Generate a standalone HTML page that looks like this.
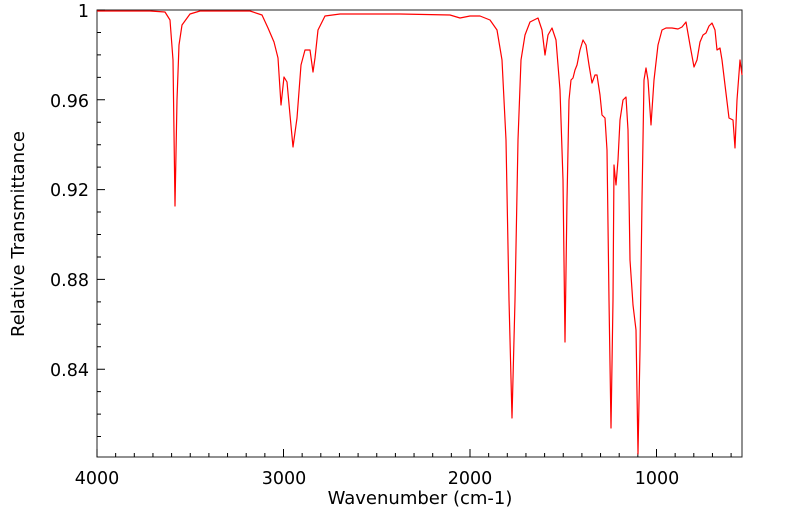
<!DOCTYPE html>
<html><head><meta charset="utf-8"><style>
html,body{margin:0;padding:0;background:#fff;}
svg{display:block;font-family:"DejaVu Sans","Liberation Sans",sans-serif;}
</style></head><body>
<svg width="799" height="516" viewBox="0 0 799 516" xmlns="http://www.w3.org/2000/svg">
<rect x="97" y="10" width="645" height="447" fill="none" stroke="#222" stroke-width="1"/>
<path stroke="#000" stroke-width="1" fill="none" d="
M97,457V449 M115.65,457V453 M134.3,457V453 M152.95,457V453 M171.6,457V453 M190.25,457V453 M208.9,457V453 M227.55,457V453 M246.2,457V453 M264.85,457V453 M283.5,457V449 M302.15,457V453 M320.8,457V453 M339.45,457V453 M358.1,457V453 M376.75,457V453 M395.4,457V453 M414.05,457V453 M432.7,457V453 M451.35,457V453 M470,457V449 M488.65,457V453 M507.3,457V453 M525.95,457V453 M544.6,457V453 M563.25,457V453 M581.9,457V453 M600.55,457V453 M619.2,457V453 M637.85,457V453 M656.5,457V449 M675.15,457V453 M693.8,457V453 M712.45,457V453 M731.1,457V453
M97,10H105 M97,32.45H101 M97,54.9H101 M97,77.35H101 M97,99.8H105 M97,122.25H101 M97,144.7H101 M97,167.15H101 M97,189.6H105 M97,212.05H101 M97,234.5H101 M97,256.95H101 M97,279.4H105 M97,301.85H101 M97,324.3H101 M97,346.75H101 M97,369.2H105 M97,391.65H101 M97,414.1H101 M97,436.55H101"/>
<polyline fill="none" stroke="#ff0000" stroke-width="1.2" stroke-linejoin="round" points="97,11 150,11 165,12 170,20 173,60 175,206 177,100 179,45 182,25 190,14 200,11 250,11 262,15 268,28 274,42 278,58 281,105 284,77 287,82 290,115 293,147 297,118 301,65 305,50 310,50 313,72 315,58 318,30 325,16 340,14 400,14 450,15 460,18 470,16 480,16 490,20 497,30 502,60 506,140 509,300 512,418 515,300 518,140 521,60 525,35 530,22 538,18 542,30 545,55 548,35 552,28 556,40 560,90 563,180 565,342 567,200 569,100 571,80 573,78 575,70 577,65 580,50 583,40 586,45 589,65 592,83 595,75 597,75 600,95 602,115 605,118 607,150 609,300 611,428 613,300 614,165 616,185 618,160 620,120 623,100 626,97 628,130 630,260 633,305 636,330 638,454 640,350 642,200 644,80 646,68 648,80 651,125 654,80 658,45 662,30 666,28 672,28 678,29 682,27 686,22 690,45 694,67 697,60 700,42 703,35 706,33 709,26 712,23 715,30 717,50 720,48 722,60 725,85 729,118 733,120 735,148 737,100 740,60 742,75"/>
<g font-size="17.5" fill="#000">
<text x="97" y="484" text-anchor="middle">4000</text>
<text x="284" y="484" text-anchor="middle">3000</text>
<text x="470" y="484" text-anchor="middle">2000</text>
<text x="657" y="484" text-anchor="middle">1000</text>
<text x="89" y="17" text-anchor="end">1</text>
<text x="89" y="107" text-anchor="end">0.96</text>
<text x="89" y="196" text-anchor="end">0.92</text>
<text x="89" y="286" text-anchor="end">0.88</text>
<text x="89" y="376" text-anchor="end">0.84</text>
<text x="420" y="504" text-anchor="middle" font-size="18">Wavenumber (cm-1)</text>
<text transform="translate(24,234) rotate(-90)" text-anchor="middle" font-size="18">Relative Transmittance</text>
</g>
</svg>
</body></html>
